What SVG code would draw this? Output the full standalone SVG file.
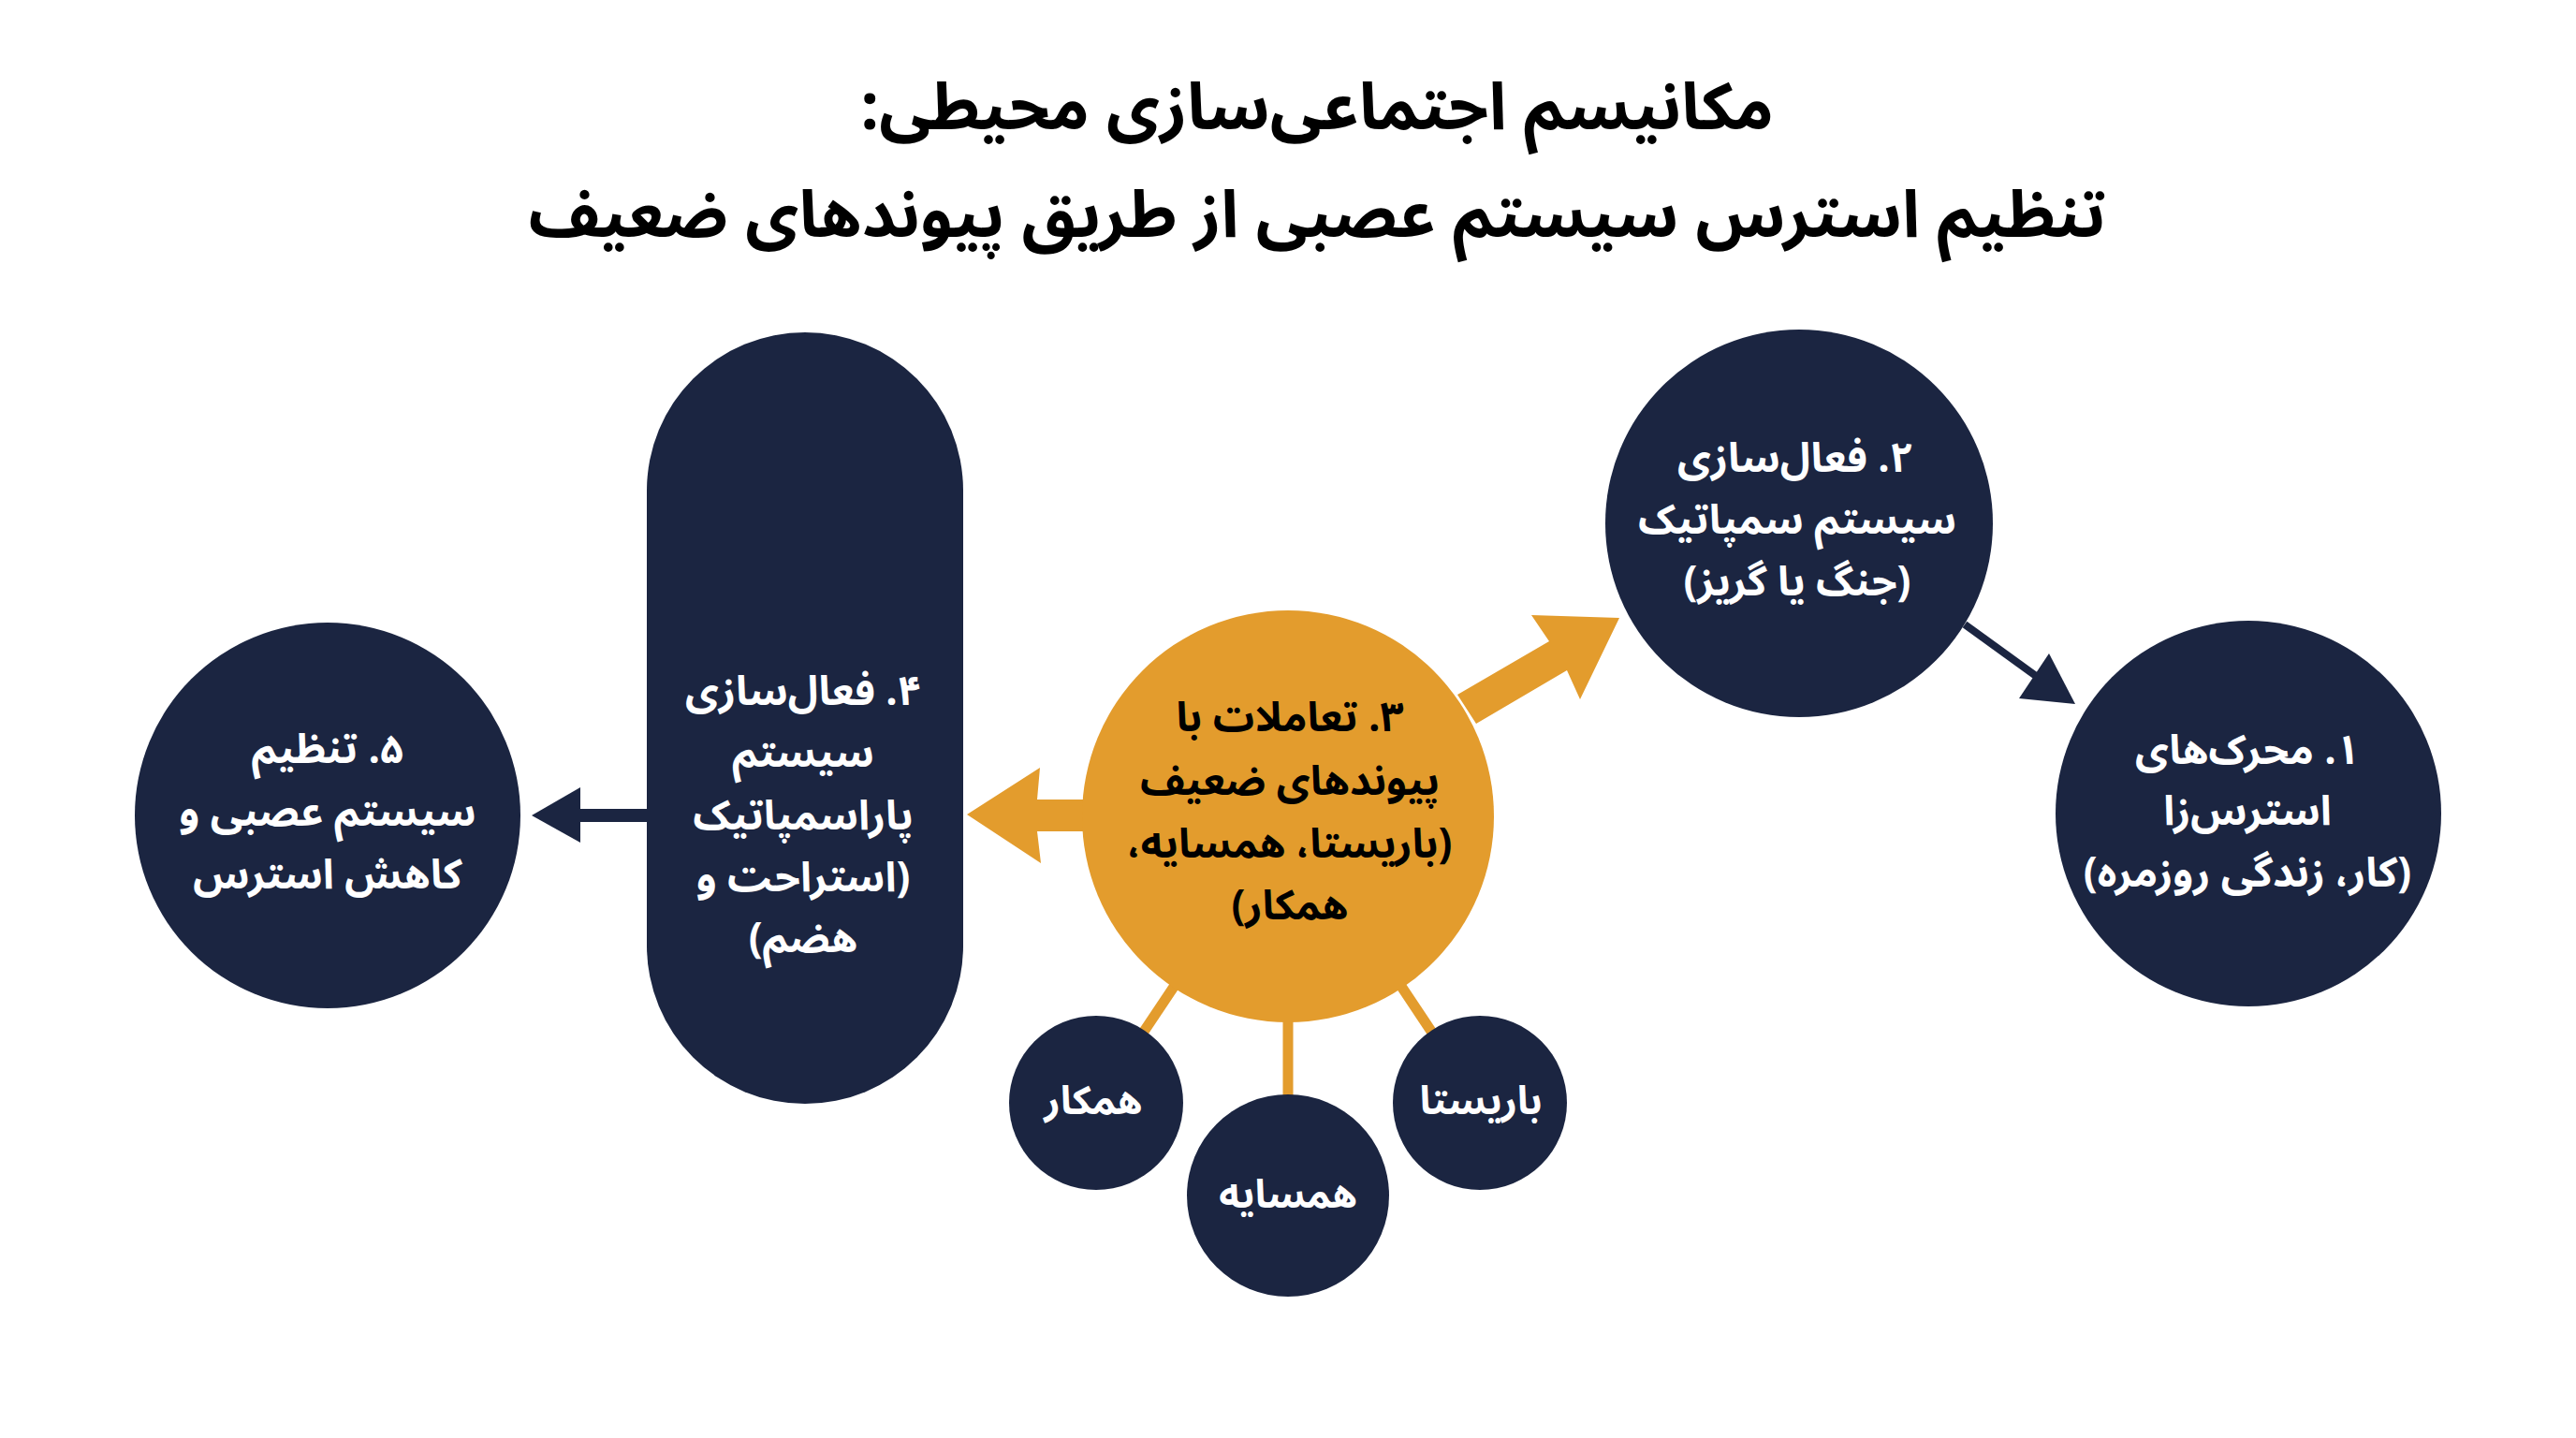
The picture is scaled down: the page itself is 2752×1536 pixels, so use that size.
<svg xmlns="http://www.w3.org/2000/svg" width="2752" height="1536" viewBox="0 0 2752 1536">
<style>
.t{font-family:"Noto Sans Arabic","DejaVu Sans",sans-serif;font-weight:bold;direction:rtl;text-anchor:middle;dominant-baseline:central}
.title{font-size:70px;fill:#000}
.w{fill:#fff;font-size:44px}
.b{fill:#000;font-size:44px}
.s{fill:#fff;font-size:42px}
.navy{fill:#1b2541}
.orange{fill:#e39c2d}
</style>
<rect width="2752" height="1536" fill="#fff"/>
<g id="title">
<text class="t title" x="1407" y="116">مکانیسم اجتماعی‌سازی محیطی:</text>
<text class="t title" x="1407" y="231">تنظیم استرس سیستم عصبی از طریق پیوندهای ضعیف</text>
</g>
<g id="connectors">
<line x1="1376" y1="872" x2="1171" y2="1178" stroke="#e39c2d" stroke-width="11"/>
<line x1="1376" y1="872" x2="1376" y2="1277" stroke="#e39c2d" stroke-width="11"/>
<line x1="1376" y1="872" x2="1580" y2="1178" stroke="#e39c2d" stroke-width="11"/>
<polygon class="orange" points="1557,742 1655,685 1636,657 1730,660 1688,747 1674,716 1577,773"/>
<polygon class="orange" points="1160,854 1108,854 1111,820 1033,870 1112,922 1108,888 1160,888"/>
<line x1="2099" y1="667" x2="2175" y2="722" stroke="#1b2541" stroke-width="8"/>
<polygon class="navy" points="2217,752 2157,746 2189,698"/>
<rect class="navy" x="615" y="864" width="80" height="14"/>
<polygon class="navy" points="568,871 620,841 620,900"/>
</g>
<g id="node1">
<circle class="navy" cx="2402" cy="869" r="206"/>
<text class="t w" x="2401" y="802">۱. محرک‌های</text>
<text class="t w" x="2401" y="867">استرس‌زا</text>
<text class="t w" x="2401" y="933">(کار، زندگی روزمره)</text>
</g>
<g id="node2">
<circle class="navy" cx="1922" cy="559" r="207"/>
<text class="t w" x="1918" y="490">۲. فعال‌سازی</text>
<text class="t w" x="1920" y="556">سیستم سمپاتیک</text>
<text class="t w" x="1920" y="622">(جنگ یا گریز)</text>
</g>
<g id="node3">
<circle class="orange" cx="1376" cy="872" r="220"/>
<text class="t b" x="1378" y="767">۳. تعاملات با</text>
<text class="t b" x="1378" y="835">پیوندهای ضعیف</text>
<text class="t b" x="1378" y="902">(باریستا، همسایه،</text>
<text class="t b" x="1378" y="968">همکار)</text>
</g>
<g id="node4">
<rect class="navy" x="691" y="355" width="338" height="824" rx="169"/>
<text class="t w" x="858" y="739">۴. فعال‌سازی</text>
<text class="t w" x="858" y="805">سیستم</text>
<text class="t w" x="858" y="872">پاراسمپاتیک</text>
<text class="t w" x="858" y="938">(استراحت و</text>
<text class="t w" x="858" y="1003">هضم)</text>
</g>
<g id="node5">
<circle class="navy" cx="350" cy="871" r="206"/>
<text class="t w" x="350" y="801">۵. تنظیم</text>
<text class="t w" x="350" y="868">سیستم عصبی و</text>
<text class="t w" x="350" y="935">کاهش استرس</text>
</g>
<g id="n-hamkar">
<circle class="navy" cx="1171" cy="1178" r="93"/>
<text class="t s" x="1168" y="1176">همکار</text>
</g>
<g id="n-hamsayeh">
<circle class="navy" cx="1376" cy="1277" r="108"/>
<text class="t s" x="1376" y="1276">همسایه</text>
</g>
<g id="n-barista">
<circle class="navy" cx="1581" cy="1178" r="93"/>
<text class="t s" x="1582" y="1176">باریستا</text>
</g>
</svg>
